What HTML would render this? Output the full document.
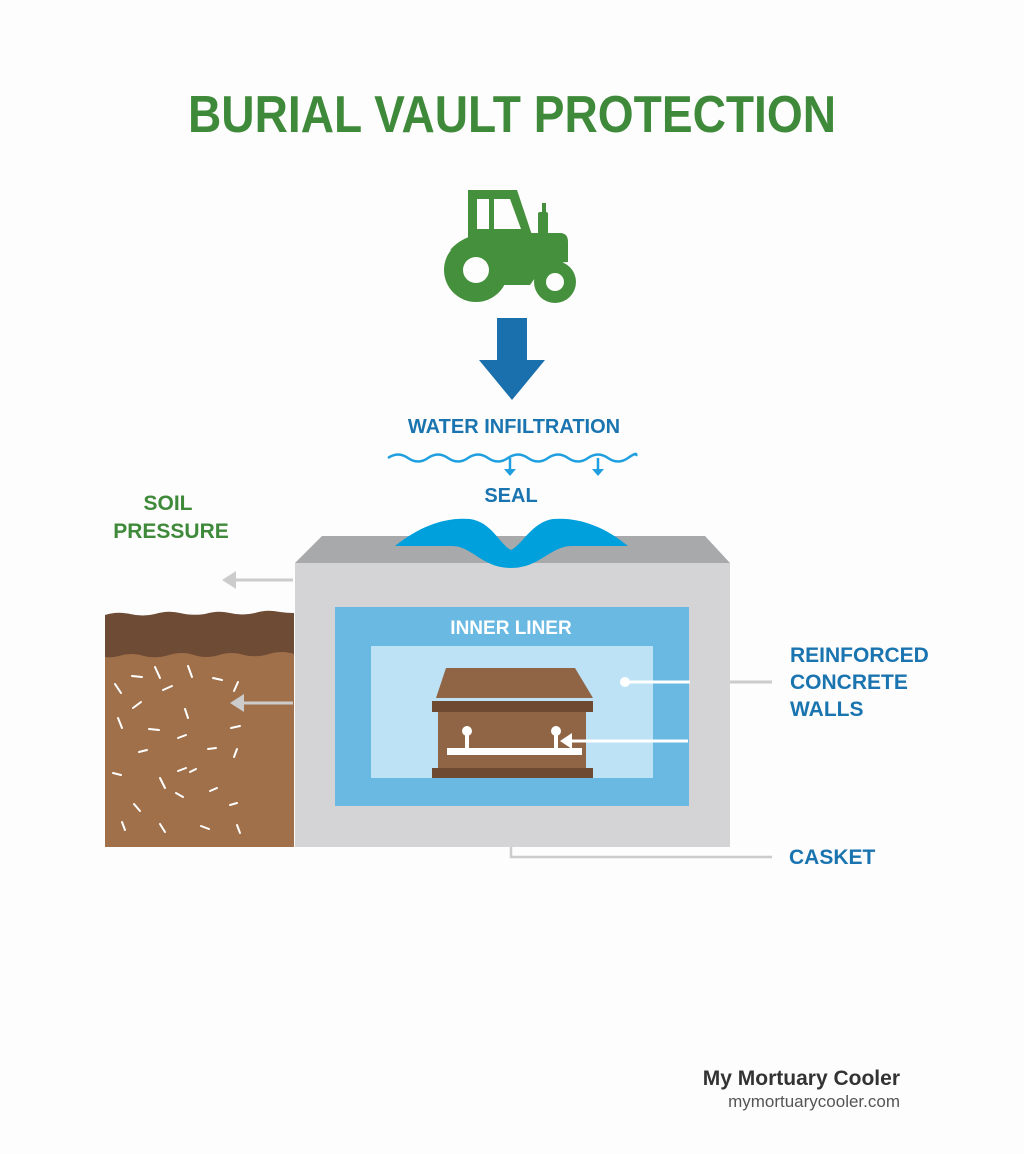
<!DOCTYPE html>
<html><head><meta charset="utf-8"><style>
html,body{margin:0;padding:0;background:#fff;}
svg{display:block;font-family:"Liberation Sans",sans-serif;font-weight:bold;}
</style></head><body>
<svg width="1024" height="1154" viewBox="0 0 1024 1154" xmlns="http://www.w3.org/2000/svg">
<rect width="1024" height="1154" fill="#fdfdfd"/>
<text x="512" y="132" text-anchor="middle" font-size="52" fill="#3f8a3a" textLength="648" lengthAdjust="spacingAndGlyphs">BURIAL VAULT PROTECTION</text>

<!-- tractor -->
<g fill="#44903c">
<path d="M468 190 L517 190 L533 238 L468 238 Z"/>
<path d="M477 199 L510 199 L521 229 L477 229 Z" fill="#fdfdfd"/>
<rect x="489" y="199" width="5" height="30"/>
<path d="M450 250 Q462 236 485 233 L560 233 Q568 233 568 242 L568 262 Q545 262 530 285 L500 285 Q492 248 470 246 Q458 247 450 250 Z"/>
<rect x="538" y="212" width="10" height="22" rx="2"/>
<rect x="542" y="203" width="4" height="10"/>
<circle cx="476" cy="270" r="32"/>
<circle cx="476" cy="270" r="13" fill="#fdfdfd"/>
<circle cx="555" cy="282" r="21"/>
<circle cx="555" cy="282" r="9" fill="#fdfdfd"/>
</g>

<!-- blue arrow -->
<path d="M497 318 L527 318 L527 360 L545 360 L512 400 L479 360 L497 360 Z" fill="#1a6fad"/>
<text x="514" y="433" text-anchor="middle" font-size="20" fill="#1a74b0">WATER INFILTRATION</text>
<path d="M388 458 q10 -7 20 0 t20 0 t20 0 t20 0 t20 0 t20 0 t20 0 t20 0 t20 0 t20 0 t20 0 t20 0 t8 -2" fill="none" stroke="#1f9fe0" stroke-width="2.5"/>
<g stroke="#1f9fe0" stroke-width="2.5" fill="#1f9fe0">
<line x1="510" y1="458" x2="510" y2="472"/><path d="M504 469 L516 469 L510 476 Z" stroke="none"/>
<line x1="598" y1="458" x2="598" y2="472"/><path d="M592 469 L604 469 L598 476 Z" stroke="none"/>
</g>
<text x="511" y="502" text-anchor="middle" font-size="20" fill="#1a74b0">SEAL</text>

<!-- soil label -->
<text x="168" y="510" text-anchor="middle" font-size="21" fill="#3f8a3a">SOIL</text>
<text x="171" y="538" text-anchor="middle" font-size="21" fill="#3f8a3a">PRESSURE</text>

<!-- soil block -->
<rect x="105" y="640" width="189" height="207" fill="#a0704a"/>
<path d="M105 615 q12 -4 25 -1 q13 3 25 0 q13 -4 25 -1 q12 3 25 1 q13 -4 25 -1 q12 3 25 0 q12 -4 25 -1 q7 1 14 1 L294 654 q-12 -4 -25 0 q-13 4 -25 1 q-12 -4 -25 0 q-13 4 -25 0 q-12 -4 -25 0 q-13 4 -25 1 q-12 -4 -25 0 q-7 2 -14 1 Z" fill="#6e4b34"/>
<g stroke="#fff" stroke-width="2" stroke-linecap="round">
<line x1="132" y1="676" x2="142" y2="677"/><line x1="155" y1="667" x2="160" y2="678"/><line x1="188" y1="666" x2="192" y2="677"/>
<line x1="213" y1="678" x2="222" y2="680"/><line x1="115" y1="684" x2="121" y2="693"/><line x1="163" y1="690" x2="172" y2="686"/>
<line x1="238" y1="682" x2="234" y2="691"/><line x1="133" y1="708" x2="141" y2="702"/><line x1="185" y1="709" x2="188" y2="718"/>
<line x1="118" y1="718" x2="122" y2="728"/><line x1="149" y1="729" x2="159" y2="730"/><line x1="178" y1="738" x2="186" y2="735"/>
<line x1="231" y1="728" x2="240" y2="726"/><line x1="139" y1="752" x2="147" y2="750"/><line x1="208" y1="749" x2="216" y2="748"/>
<line x1="237" y1="749" x2="234" y2="757"/><line x1="113" y1="773" x2="121" y2="775"/><line x1="160" y1="778" x2="165" y2="788"/>
<line x1="178" y1="771" x2="186" y2="768"/><line x1="190" y1="772" x2="196" y2="769"/><line x1="210" y1="791" x2="217" y2="788"/>
<line x1="176" y1="793" x2="183" y2="797"/><line x1="134" y1="804" x2="140" y2="811"/><line x1="230" y1="805" x2="237" y2="803"/>
<line x1="122" y1="822" x2="125" y2="830"/><line x1="160" y1="824" x2="165" y2="832"/><line x1="201" y1="826" x2="209" y2="829"/>
<line x1="237" y1="825" x2="240" y2="833"/>
</g>

<!-- gray arrows -->
<g fill="#ccc" stroke="#ccc">
<line x1="293" y1="580" x2="232" y2="580" stroke-width="3"/><path d="M222 580 L236 571 L236 589 Z" stroke="none"/>
<line x1="293" y1="703" x2="240" y2="703" stroke-width="3"/><path d="M230 703 L244 694 L244 712 Z" stroke="none"/>
</g>

<!-- vault -->
<path d="M322 536 L705 536 L730 563 L295 563 Z" fill="#a8a9ab"/>
<rect x="295" y="563" width="435" height="284" fill="#d4d4d6"/>
<path d="M395 546 C420 526 445 517 470 519 C492 522 500 545 511 550 C522 545 532 522 553 519 C578 517 604 526 628 546 L572 546 C550 546 540 568 511 568 C482 568 472 546 452 546 Z" fill="#00a0dc"/>
<rect x="335" y="607" width="354" height="199" fill="#69b9e3"/>
<rect x="371" y="646" width="282" height="132" fill="#bde2f5"/>
<text x="511" y="634" text-anchor="middle" font-size="19" fill="#fff">INNER LINER</text>

<!-- casket -->
<path d="M446 668 L575 668 L593 698 L436 698 Z" fill="#8f6545"/>
<rect x="432" y="701" width="161" height="11" fill="#6e4a33"/>
<rect x="438" y="712" width="148" height="56" fill="#8f6545"/>
<rect x="432" y="768" width="161" height="10" fill="#6e4a33"/>
<rect x="447" y="748" width="135" height="7" fill="#fff"/>
<rect x="465" y="733" width="4" height="16" fill="#fff"/><circle cx="467" cy="731" r="5" fill="#fff"/>
<rect x="554" y="733" width="4" height="16" fill="#fff"/><circle cx="556" cy="731" r="5" fill="#fff"/>

<!-- leader lines -->
<line x1="688" y1="741" x2="572" y2="741" stroke="#fff" stroke-width="3"/>
<path d="M560 741 L572 733 L572 749 Z" fill="#fff"/>
<line x1="628" y1="682" x2="690" y2="682" stroke="#fff" stroke-width="3"/>
<circle cx="625" cy="682" r="5" fill="#fff"/>
<line x1="730" y1="682" x2="772" y2="682" stroke="#ccc" stroke-width="3"/>
<polyline points="511,847 511,857 772,857" fill="none" stroke="#ccc" stroke-width="2.5"/>

<text font-size="21" fill="#1a74b0"><tspan x="790" y="662">REINFORCED</tspan><tspan x="790" y="689">CONCRETE</tspan><tspan x="790" y="716">WALLS</tspan></text>
<text x="789" y="864" font-size="21" fill="#1a74b0">CASKET</text>

<text x="900" y="1085" text-anchor="end" font-size="21" fill="#333">My Mortuary Cooler</text>
<text x="900" y="1107" text-anchor="end" font-size="17" font-weight="normal" fill="#555">mymortuarycooler.com</text>
</svg>
</body></html>
